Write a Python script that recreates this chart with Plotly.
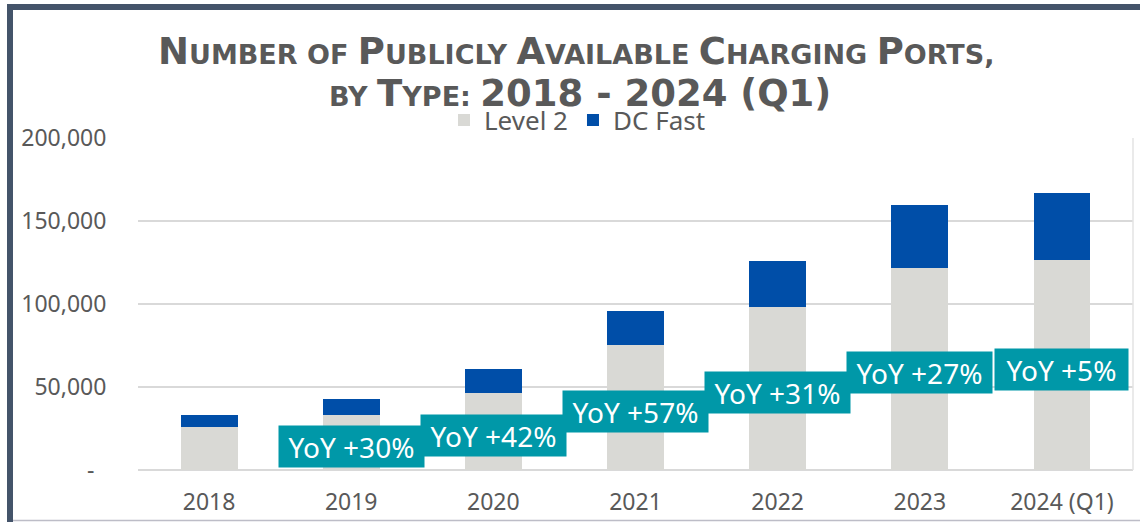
import plotly.graph_objects as go

# ---- data ----
years = ["2018", "2019", "2020", "2021", "2022", "2023", "2024 (Q1)"]
level2 = [26100, 33100, 46200, 75300, 98200, 121700, 126500]
dc_fast = [7000, 9700, 14600, 20500, 27700, 37900, 40300]
yoy_labels = ["", "YoY +30%", "YoY +42%", "YoY +57%", "YoY +31%", "YoY +27%", "YoY +5%"]
y_tickvals = [0, 50000, 100000, 150000, 200000]
y_ticktext = ["-\u00a0\u00a0", "50,000", "100,000", "150,000", "200,000"]

# ---- layout geometry (screen pixels of the final 1140x522 render) ----
W, H = 1140, 522
PLOT_L, PLOT_R, PLOT_T, PLOT_B = 138, 1133, 138, 470
ML, MR, MT, MB = PLOT_L, W - PLOT_R, PLOT_T, H - PLOT_B
PW, PH = W - ML - MR, H - MT - MB


def px_x(px):
    return (px - PLOT_L) / PW


def px_y(py):
    return (PLOT_B - py) / PH


GRAY_TXT = "#595959"
FONT = "Noto Sans, DejaVu Sans, sans-serif"

fig = go.Figure()
fig.add_trace(go.Bar(x=years, y=level2, name="Level 2", marker_color="#D9D9D5",
                     marker_line_width=0))
fig.add_trace(go.Bar(x=years, y=dc_fast, name="DC Fast", marker_color="#004EA8",
                     marker_line_width=0))

annotations = []
for i, (l2, lbl) in enumerate(zip(level2, yoy_labels)):
    if not lbl:
        continue
    annotations.append(dict(
        x=i, y=l2 / 2, xref="x", yref="y", text=lbl, showarrow=False,
        font=dict(family=FONT, size=28, color="white"),
        bgcolor="#0098A8", borderpad=2, width=141 if len(lbl) > 7 else 129, height=37,
        xanchor="center", yanchor="middle", yshift=-4,
    ))

big = "<span style='font-size:37px'>{}</span>"
line1 = (big.format("N") + "UMBER OF " + big.format("P") + "UBLICLY " + big.format("A")
         + "VAILABLE " + big.format("C") + "HARGING " + big.format("P") + "ORTS,")
line2 = "BY " + big.format("T") + "YPE: " + big.format("2018 - 2024 (Q1)")
annotations.append(dict(x=px_x(576), y=px_y(51), xref="paper", yref="paper", text=line1,
                        showarrow=False, xanchor="center", yanchor="middle",
                        font=dict(family="DejaVu Sans, sans-serif", size=27, color=GRAY_TXT,
                                  weight="bold")))
annotations.append(dict(x=px_x(580), y=px_y(94), xref="paper", yref="paper", text=line2,
                        showarrow=False, xanchor="center", yanchor="middle",
                        font=dict(family="DejaVu Sans, sans-serif", size=27, color=GRAY_TXT,
                                  weight="bold")))

BORDER = "#44546A"
shapes = [
    dict(type="line", xref="paper", yref="paper", x0=px_x(10), x1=px_x(1160), y0=px_y(7), y1=px_y(7),
         line=dict(color=BORDER, width=6)),
    dict(type="line", xref="paper", yref="paper", x0=px_x(10), x1=px_x(10), y0=px_y(4), y1=px_y(540),
         line=dict(color=BORDER, width=6)),
    dict(type="line", xref="paper", yref="paper", x0=px_x(13), x1=px_x(1160), y0=px_y(520.5),
         y1=px_y(520.5), line=dict(color="#BDBDC7", width=1.5)),
    dict(type="line", xref="paper", yref="paper", x0=1, x1=1, y0=0, y1=1,
         line=dict(color="#E3E3E3", width=1.5)),
]

fig.update_layout(
    # initial size fits inside the page's default 8px body margin; post_script
    # removes that margin and resizes to the full 1140x522 window
    width=W - 16, height=H - 16,
    margin=dict(l=ML, r=MR, t=MT, b=MB, autoexpand=False),
    paper_bgcolor="white", plot_bgcolor="white",
    barmode="stack", bargap=0.6,
    font=dict(family=FONT, color=GRAY_TXT),
    showlegend=True,
    legend=dict(orientation="h", x=px_x(444), y=px_y(120), xanchor="left", yanchor="middle",
                font=dict(family=FONT, size=26, color=GRAY_TXT), bgcolor="rgba(0,0,0,0)",
                traceorder="normal", itemclick=False),
    annotations=annotations,
    shapes=shapes,
    xaxis=dict(type="category", range=[-0.5, len(years) - 0.5], showgrid=False, showline=False,
               zeroline=False, ticks="outside", ticklen=11,
               tickcolor="rgba(0,0,0,0)", tickfont=dict(family=FONT, size=23, color=GRAY_TXT)),
    yaxis=dict(range=[0, 200000], tickvals=y_tickvals, ticktext=y_ticktext,
               showgrid=True, gridcolor="#D9D9D9", gridwidth=1.5,
               zeroline=True, zerolinecolor="#D9D9D9", zerolinewidth=1.5, showline=False,
               ticks="outside", ticklen=26, tickcolor="rgba(0,0,0,0)",
               tickfont=dict(family=FONT, size=23, color=GRAY_TXT)),
)

fig.write_html(
    "out.html",
    config={"displayModeBar": False},
    post_script=(
        "document.documentElement.style.overflow='hidden';"
        "document.body.style.margin='0';document.body.style.overflow='hidden';"
        "Plotly.relayout(document.getElementById('{plot_id}'), {width: %d, height: %d});" % (W, H)
    ),
)
